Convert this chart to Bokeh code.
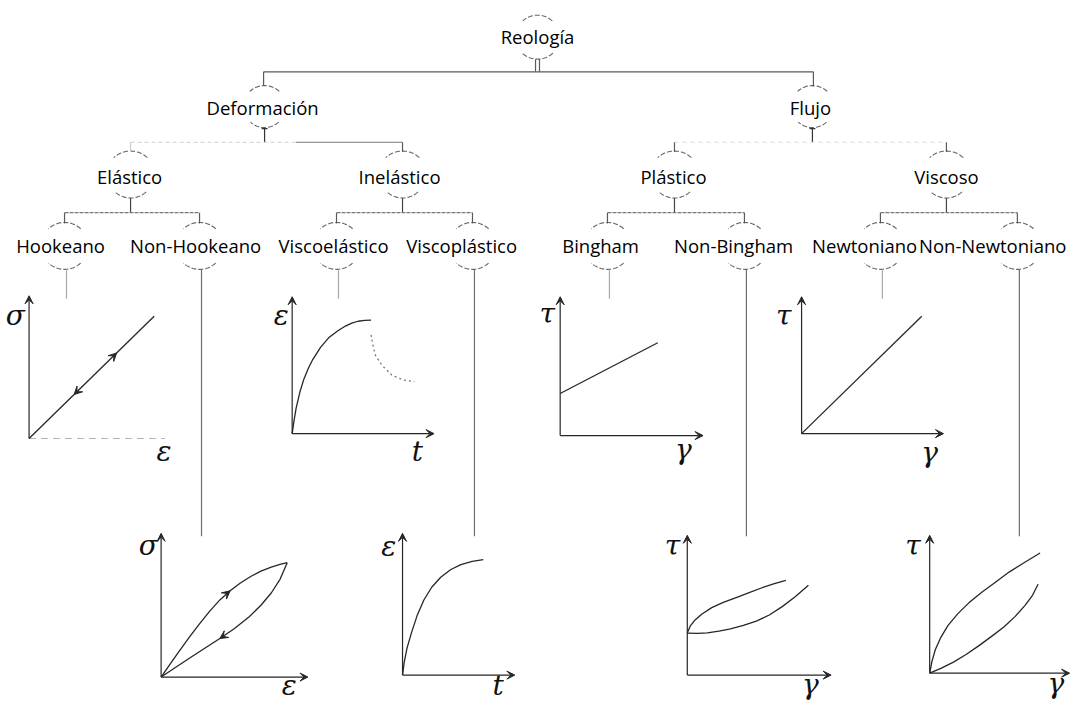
import numpy as np
from bokeh.plotting import figure
from bokeh.models import Range1d, Arrow, VeeHead
from bokeh.core.properties import value
from bokeh.embed import file_html
from bokeh.resources import INLINE

# ---------------- data (texts and curve values) ----------------
root_label = "Reología"
level1_labels = ["Deformación", "Flujo"]
level2_labels = ["Elástico", "Inelástico", "Plástico", "Viscoso"]
level3_labels = ["Hookeano", "Non-Hookeano", "Viscoelástico", "Viscoplástico",
                 "Bingham", "Non-Bingham", "Newtoniano", "Non-Newtoniano"]

y_axis_labels = ["σ", "ε", "τ", "τ", "σ", "ε", "τ", "τ"]
x_axis_labels = ["ε", "t", "γ", "γ", "ε", "t", "γ", "γ"]

# curve values, as fractions of each small plot's axis lengths
hooke_strain = [0.0, 0.92]
hooke_stress = [0.0, 0.856]

creep_time = [0.0, 0.014, 0.028, 0.056, 0.083, 0.115, 0.146, 0.20, 0.257, 0.32, 0.375, 0.42, 0.465, 0.51, 0.556]
creep_strain = [0.0, 0.10, 0.186, 0.31, 0.40, 0.48, 0.543, 0.63, 0.70, 0.75, 0.786, 0.807, 0.821, 0.827, 0.829]
recovery_time = [0.556, 0.563, 0.583, 0.632, 0.701, 0.778, 0.861]
recovery_strain = [0.722, 0.679, 0.579, 0.50, 0.429, 0.393, 0.379]

bingham_rate = [0.0, 0.683]
bingham_stress = [0.303, 0.669]

newton_rate = [0.0, 0.847]
newton_stress = [0.0, 0.857]

loop_up_strain = [0.0, 0.06, 0.12, 0.19, 0.26, 0.33, 0.40, 0.47, 0.54, 0.61, 0.68, 0.75, 0.81, 0.859]
loop_up_stress = [0.0, 0.088, 0.175, 0.274, 0.369, 0.457, 0.537, 0.600, 0.655, 0.700, 0.737, 0.765, 0.784, 0.796]
loop_down_strain = [0.859, 0.81, 0.75, 0.68, 0.60, 0.50, 0.40, 0.30, 0.20, 0.10, 0.0]
loop_down_stress = [0.796, 0.68, 0.585, 0.50, 0.42, 0.338, 0.268, 0.202, 0.136, 0.068, 0.0]

vplast_time = [0.0, 0.015, 0.04, 0.08, 0.13, 0.19, 0.26, 0.34, 0.43, 0.52, 0.62, 0.719]
vplast_strain = [0.0, 0.09, 0.19, 0.30, 0.42, 0.53, 0.62, 0.69, 0.745, 0.78, 0.803, 0.814]

nonbing_up_rate = [0.0, 0.02, 0.05, 0.10, 0.17, 0.25, 0.34, 0.43, 0.52, 0.60, 0.685]
nonbing_up_stress = [0.301, 0.35, 0.39, 0.435, 0.483, 0.52, 0.555, 0.59, 0.625, 0.652, 0.678]
nonbing_low_rate = [0.0, 0.07, 0.14, 0.22, 0.30, 0.39, 0.48, 0.57, 0.66, 0.75, 0.842]
nonbing_low_stress = [0.301, 0.298, 0.302, 0.314, 0.331, 0.355, 0.386, 0.43, 0.49, 0.56, 0.643]

nonnewt_up_rate = [0.0, 0.015, 0.04, 0.08, 0.13, 0.20, 0.28, 0.37, 0.47, 0.57, 0.68, 0.789]
nonnewt_up_stress = [0.0, 0.08, 0.17, 0.26, 0.345, 0.43, 0.51, 0.585, 0.66, 0.735, 0.805, 0.872]
nonnewt_low_rate = [0.0, 0.08, 0.17, 0.26, 0.35, 0.44, 0.53, 0.61, 0.68, 0.735, 0.775]
nonnewt_low_stress = [0.0, 0.035, 0.08, 0.135, 0.198, 0.265, 0.335, 0.41, 0.49, 0.565, 0.645]

# ---------------- layout ----------------
W, H = 1092, 718
p = figure(width=1076, height=702, x_range=Range1d(0, W), y_range=Range1d(H, 0),
           output_backend="svg", toolbar_location=None, min_border=0)
p.axis.visible = False
p.grid.visible = False
p.outline_line_color = None

NODE_FONT = value("Open Sans")
GREEK_FONT = value("DejaVu Serif")
TREE = "#5a5a5a"
INK = "#262626"

root_pos = (545, 37)
l1_x, l1_y = [266, 822], 109
l2_text_x, l2_arc_x, l2_y = [131, 405, 683, 960], [132, 408, 684, 960], 180
l3_text_x = [61, 198, 338, 468, 609, 744, 877, 1007]
l3_arc_x = [65, 202, 341, 479, 616, 755, 893, 1032]
l3_y = 251


def arc(cx, cy, r, top):
    a = np.radians(np.linspace(47, 133, 20))
    xs = cx + r * np.cos(a)
    ys = cy - r * np.sin(a) if top else cy + r * np.sin(a)
    return list(xs), list(ys)


arc_xs, arc_ys = [], []
def add_node_arcs(cx, cy, rt, rb):
    for top, r in ((True, rt), (False, rb)):
        xs, ys = arc(cx, cy, r, top)
        arc_xs.append(xs)
        arc_ys.append(ys)

add_node_arcs(root_pos[0], root_pos[1], 22, 23)
for x in l1_x:
    add_node_arcs(x + 2, l1_y, 22, 21)
for x in l2_arc_x:
    add_node_arcs(x, l2_y - 1, 25, 23)
for x in l3_arc_x:
    add_node_arcs(x, l3_y, 24, 24)

p.multi_line(arc_xs, arc_ys, line_color="#666666", line_width=1.1, line_dash="5 2")

# tree connectors
seg = []   # (x0, y0, x1, y1, color, dash)
seg += [(543, 60, 543, 73, TREE, "solid"), (547, 60, 547, 73, TREE, "solid")]
seg += [(l1_x[0] + 1, 73, l1_x[1] + 3, 73, TREE, "solid")]
seg += [(l1_x[0] + 1, 73, l1_x[0] + 1, 87, TREE, "solid"), (l1_x[1] + 3, 73, l1_x[1] + 3, 88, TREE, "solid")]
for x in l1_x:
    seg += [(x + 2, 131, x + 2, 145, "#333333", "solid"), (x - 1, 131, x + 5, 131, "#333333", "solid")]
seg += [(l2_arc_x[0], 145, 300, 145, "#cfcfcf", "4 3"), (300, 145, l2_arc_x[1], 145, "#777777", "solid")]
seg += [(l2_arc_x[2], 145, l2_arc_x[3], 145, "#dddddd", "4 4")]
for x in l2_arc_x:
    seg += [(x, 145, x, 155, TREE if x != l2_arc_x[0] else "#cccccc", "solid")]
    seg += [(x, 202, x, 217, "#444444", "solid")]
for i in range(4):
    xa, xb = l3_arc_x[2 * i], l3_arc_x[2 * i + 1]
    seg += [(xa, 217, xb, 217, "#7a7a7a", "4 1"), (xa, 217, xa, 228, TREE, "solid"), (xb, 217, xb, 228, TREE, "solid")]
    seg += [(xa + 2, 275, xa + 2, 305, "#a8a8a8", "solid")]
    seg += [(xb + 2, 275, xb + 2, 548, "#6e6e6e", "solid")]

for (x0, y0, x1, y1, c, d) in seg:
    p.line([x0, x1], [y0, y1], line_color=c, line_width=1.2, line_dash=d)

# node texts
p.text(x=[root_pos[0]] + l1_x + l2_text_x + l3_text_x,
       y=[root_pos[1]] + [l1_y] * 2 + [l2_y] * 4 + [l3_y] * 8,
       text=[root_label] + level1_labels + level2_labels + level3_labels,
       text_font=NODE_FONT, text_font_size="18.5px", text_color="#000000",
       text_align="center", text_baseline="middle")

# ---------------- small plots ----------------
# origin x, origin y, x-axis length, y-axis length
boxes = [(29, 448, 138, 146), (296, 443, 144, 140), (568, 445, 145, 142), (813, 443, 144, 140),
         (163, 692, 149, 147), (408, 690, 114, 145), (697, 690, 146, 143), (943, 688, 142, 141)]
ylab_pos = [(15, 322), (285, 322), (555, 320), (795, 322),
            (150, 557), (394, 558), (682, 557), (926, 557)]
xlab_pos = [(166, 461), (423, 461), (693, 459), (943, 462),
            (293, 701), (505, 701), (822, 700), (1071, 699)]


def to_page(i, fx, fy):
    ox, oy, w, h = boxes[i]
    return [ox + a * w for a in fx], [oy - b * h for b in fy]


for i, (ox, oy, w, h) in enumerate(boxes):
    p.add_layout(Arrow(x_start=ox, y_start=oy, x_end=ox, y_end=oy - h, line_color=INK, line_width=1.2,
                       end=VeeHead(size=8, fill_color=INK, line_color=INK)))
    if i == 0:
        p.line([ox, ox + w], [oy, oy], line_color="#b5b5b5", line_width=1.2, line_dash="7 5")
    else:
        p.add_layout(Arrow(x_start=ox, y_start=oy, x_end=ox + w, y_end=oy, line_color=INK, line_width=1.2,
                           end=VeeHead(size=8, fill_color=INK, line_color=INK)))

p.text(x=[a for a, _ in ylab_pos] + [a for a, _ in xlab_pos],
       y=[b for _, b in ylab_pos] + [b for _, b in xlab_pos],
       text=y_axis_labels + x_axis_labels,
       text_font=GREEK_FONT, text_font_style="italic", text_font_size="28px", text_color="#111111",
       text_align="center", text_baseline="middle")

curves = [
    (0, hooke_strain, hooke_stress, "solid"),
    (1, creep_time, creep_strain, "solid"),
    (1, recovery_time, recovery_strain, "2 3"),
    (2, bingham_rate, bingham_stress, "solid"),
    (3, newton_rate, newton_stress, "solid"),
    (4, loop_up_strain, loop_up_stress, "solid"),
    (4, loop_down_strain, loop_down_stress, "solid"),
    (5, vplast_time, vplast_strain, "solid"),
    (6, nonbing_up_rate, nonbing_up_stress, "solid"),
    (6, nonbing_low_rate, nonbing_low_stress, "solid"),
    (7, nonnewt_up_rate, nonnewt_up_stress, "solid"),
    (7, nonnewt_low_rate, nonnewt_low_stress, "solid"),
]
for i, fx, fy, dash in curves:
    xs, ys = to_page(i, fx, fy)
    p.line(xs, ys, line_color=INK if dash == "solid" else "#777777", line_width=1.3, line_dash=dash)


def mid_arrow(i, fx, fy, k):
    xs, ys = to_page(i, fx, fy)
    dx, dy = xs[k + 1] - xs[k - 1], ys[k + 1] - ys[k - 1]
    n = (dx * dx + dy * dy) ** 0.5
    p.add_layout(Arrow(x_start=xs[k] - 4 * dx / n, y_start=ys[k] - 4 * dy / n, x_end=xs[k], y_end=ys[k],
                       line_alpha=0, end=VeeHead(size=8, fill_color=INK, line_color=INK)))


# arrows along the loading / unloading paths
t_up, t_down = 0.70, 0.36
mid_arrow(0, [0, hooke_strain[1] * t_up, hooke_strain[1]], [0, hooke_stress[1] * t_up, hooke_stress[1]], 1)
mid_arrow(0, [hooke_strain[1], hooke_strain[1] * t_down, 0], [hooke_stress[1], hooke_stress[1] * t_down, 0], 1)
mid_arrow(4, loop_up_strain, loop_up_stress, 7)
mid_arrow(4, loop_down_strain, loop_down_stress, 6)

open("out.html", "w").write(file_html(p, INLINE))
